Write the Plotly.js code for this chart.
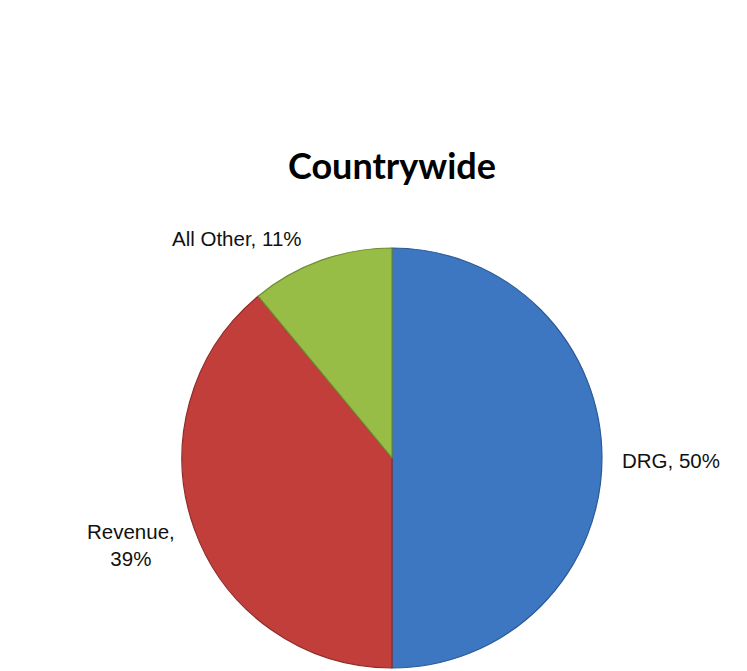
<!DOCTYPE html>
<html><head><meta charset="utf-8">
<script src="https://cdn.plot.ly/plotly-3.0.1.min.js"></script>
<style>html,body{margin:0;padding:0;background:#fff}</style>
</head><body>
<div id="chart" style="width:747px;height:671px"></div>
<script>
var categories = ["DRG", "Revenue", "All Other"];
var shares = [50, 39, 11];
var sliceColors = ["#3d77c2", "#c23e3b", "#98bd46"];
var edgeColors = ["#2b5a96", "#8e2b29", "#6f8c32"];
var labelText = ["DRG, 50%", "Revenue,<br>39%", "All Other, 11%"];

var trace = {
  type: "pie",
  labels: categories,
  values: shares,
  sort: false,
  direction: "clockwise",
  rotation: 0,
  textinfo: "none",
  hoverinfo: "label+percent",
  marker: {colors: sliceColors, line: {color: edgeColors, width: 1.2}},
  domain: {x: [0.2436, 0.8059], y: [0.0045, 0.6304]},
  showlegend: false
};

var labFont = {family: "Liberation Sans, Arial, sans-serif", size: 20.5, color: "#111"};
var layout = {
  width: 747, height: 671,
  margin: {l: 0, r: 0, t: 0, b: 0},
  paper_bgcolor: "#fff",
  title: {text: "<b>Countrywide</b>", x: 392/747, xanchor: "center", y: 1 - 166/671, yanchor: "middle",
          font: {family: "Lato, Open Sans, sans-serif", size: 36, color: "#000"}},
  annotations: [
    {text: labelText[0], x: 671/747, y: 1 - 460/671, xref: "paper", yref: "paper", showarrow: false, font: labFont, xanchor: "center", yanchor: "middle"},
    {text: labelText[1], x: 131/747, y: 1 - 545/671, xref: "paper", yref: "paper", showarrow: false, font: labFont, xanchor: "center", yanchor: "middle"},
    {text: labelText[2], x: 237/747, y: 1 - 238/671, xref: "paper", yref: "paper", showarrow: false, font: labFont, xanchor: "center", yanchor: "middle"}
  ]
};
Plotly.newPlot("chart", [trace], layout, {displayModeBar: false, staticPlot: true});
</script>
</body></html>
